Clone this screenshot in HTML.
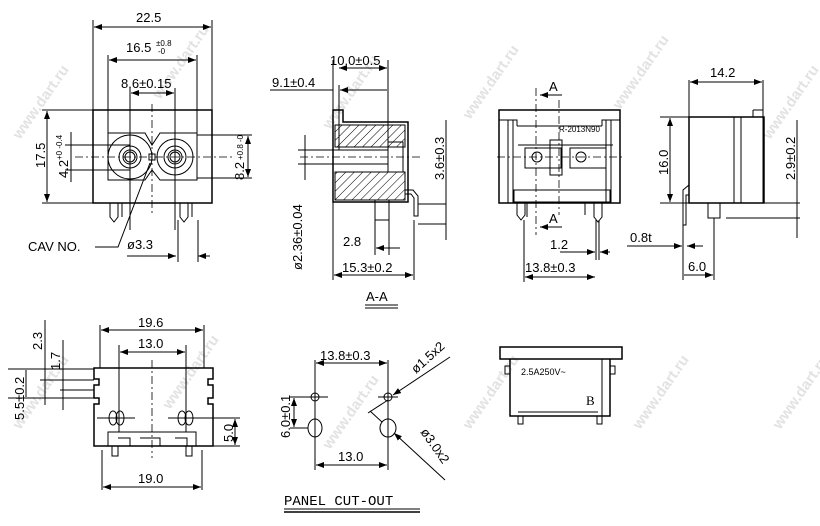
<!DOCTYPE html>
<html><head><meta charset="utf-8"><style>
html,body{margin:0;padding:0;background:#fff}
svg{display:block}
text{font-family:"Liberation Sans",sans-serif;font-size:13px;fill:#000}
.s{stroke:#000;stroke-width:1;fill:none}
.t{stroke:#000;stroke-width:1.5;fill:none}
.d{stroke:#000;stroke-width:0.8;fill:none;stroke-dasharray:8 3 2 3}
.w{font-size:15px;fill:#e2e2e2;font-weight:bold}
</style></head><body>
<svg width="820" height="526" viewBox="0 0 820 526" xmlns="http://www.w3.org/2000/svg">
<defs>
<marker id="a" markerWidth="8" markerHeight="6" refX="8" refY="3" orient="auto-start-reverse"><path d="M0,0 L8,3 L0,6z" fill="#000"/></marker>
<pattern id="h" width="6" height="6" patternUnits="userSpaceOnUse" patternTransform="rotate(45)"><line x1="0" y1="0" x2="0" y2="6" stroke="#000" stroke-width="1"/></pattern>
</defs>
<g>
<text class="w" transform="translate(20,140) rotate(-55)">www.dart.ru</text>
<text class="w" transform="translate(160,100) rotate(-55)">www.dart.ru</text>
<text class="w" transform="translate(330,130) rotate(-55)">www.dart.ru</text>
<text class="w" transform="translate(470,120) rotate(-55)">www.dart.ru</text>
<text class="w" transform="translate(620,110) rotate(-55)">www.dart.ru</text>
<text class="w" transform="translate(770,140) rotate(-55)">www.dart.ru</text>
<text class="w" transform="translate(20,430) rotate(-55)">www.dart.ru</text>
<text class="w" transform="translate(170,410) rotate(-55)">www.dart.ru</text>
<text class="w" transform="translate(330,450) rotate(-55)">www.dart.ru</text>
<text class="w" transform="translate(470,430) rotate(-55)">www.dart.ru</text>
<text class="w" transform="translate(640,430) rotate(-55)">www.dart.ru</text>
<text class="w" transform="translate(780,430) rotate(-55)">www.dart.ru</text>
</g>

<!-- VIEW 1 front -->
<rect class="t" x="93" y="110" width="119" height="93"/>
<path class="s" d="M108,133 L145,133 L152,145 L160,133 L197,133 L197,180 L160,180 L152,170 L145,180 L108,180z"/>
<circle class="s" cx="130" cy="157" r="22"/><circle class="s" cx="175" cy="157" r="18"/>
<circle class="s" cx="130" cy="157" r="11"/><circle class="s" cx="130" cy="157" r="7"/><circle class="s" cx="130" cy="157" r="5"/>
<circle class="s" cx="175" cy="157" r="11"/><circle class="s" cx="175" cy="157" r="7"/><circle class="s" cx="175" cy="157" r="5"/>
<rect class="s" x="149" y="154" width="6" height="6"/>
<line class="d" x1="75" y1="157" x2="232" y2="157"/>
<line class="d" x1="152" y1="104" x2="152" y2="215"/>
<line class="s" x1="130" y1="88" x2="130" y2="230"/><line class="s" x1="175" y1="88" x2="175" y2="230"/>
<line class="s" x1="93" y1="20" x2="93" y2="110"/><line class="s" x1="212" y1="20" x2="212" y2="110"/>
<line class="s" x1="94" y1="27" x2="211" y2="27" marker-start="url(#a)" marker-end="url(#a)"/>
<text x="136" y="22">22.5</text>
<line class="s" x1="108" y1="55" x2="108" y2="135"/><line class="s" x1="197" y1="55" x2="197" y2="135"/>
<line class="s" x1="109" y1="60" x2="196" y2="60" marker-start="url(#a)" marker-end="url(#a)"/>
<text x="126" y="52">16.5</text><text x="156" y="46" style="font-size:8px">±0.8</text><text x="158" y="54" style="font-size:8px">-0</text>
<line class="s" x1="131" y1="93" x2="174" y2="93" marker-start="url(#a)" marker-end="url(#a)"/>
<text x="121" y="88">8.6±0.15</text>
<line class="s" x1="42" y1="110" x2="93" y2="110"/><line class="s" x1="42" y1="203" x2="93" y2="203"/>
<line class="s" x1="47" y1="111" x2="47" y2="202" marker-start="url(#a)" marker-end="url(#a)"/>
<text transform="translate(45,168) rotate(-90)">17.5</text>
<line class="s" x1="65" y1="145" x2="130" y2="145"/><line class="s" x1="65" y1="170" x2="130" y2="170"/>
<line class="s" x1="71" y1="132" x2="71" y2="182"/>
<text transform="translate(68,178) rotate(-90)">4.2</text><text transform="translate(62,160) rotate(-90)" style="font-size:8px">+0 -0.4</text>
<line class="s" x1="197" y1="135" x2="252" y2="135"/><line class="s" x1="197" y1="178" x2="252" y2="178"/>
<line class="s" x1="248" y1="136" x2="248" y2="177" marker-start="url(#a)" marker-end="url(#a)"/>
<text transform="translate(244,180) rotate(-90)">8.2</text><text transform="translate(243,160) rotate(-90)" style="font-size:8px">+0.8 -0</text>
<path class="s" d="M110,203 v14 l4,5 l4,-5 v-14 M118,203 v12 M122,203 v14 M180,203 v14 l4,5 l4,-5 v-14 M188,203 v12 M192,203 v14"/>
<text x="28" y="251">CAV  NO.</text>
<path class="s" d="M95,247 L118,247 L150,163"/>
<text x="127" y="249">ø3.3</text>
<line class="s" x1="127" y1="256" x2="176" y2="256" marker-end="url(#a)"/>
<line class="s" x1="198" y1="256" x2="210" y2="256" marker-start="url(#a)"/>
<line class="s" x1="178" y1="220" x2="178" y2="262"/><line class="s" x1="198" y1="220" x2="198" y2="262"/>

<!-- VIEW 2 section -->
<path class="t" d="M333,110 h10 v12 h65 v80 h-75z"/>
<rect x="335" y="125" width="70" height="22" fill="url(#h)" stroke="#000"/>
<rect x="335" y="172" width="70" height="28" fill="url(#h)" stroke="#000"/>
<path class="s" d="M333,150 h55 v-8 h15 v30 h-15 v-8 h-55 M388,150 v14"/>
<rect class="s" x="375" y="200" width="14" height="20"/>
<path class="s" d="M405,190 h8 l5,6 v20 h-4 v-18 l-3,-4 h-6"/>
<line class="d" x1="300" y1="157" x2="420" y2="157"/>
<line class="s" x1="298" y1="150" x2="340" y2="150"/><line class="s" x1="298" y1="164" x2="340" y2="164"/>
<line class="s" x1="305" y1="135" x2="305" y2="180"/>
<text transform="translate(302,270) rotate(-90)">ø2.36±0.04</text>
<line class="s" x1="333" y1="60" x2="333" y2="280"/><line class="s" x1="388" y1="60" x2="388" y2="150"/>
<line class="s" x1="339" y1="68" x2="387" y2="68" marker-start="url(#a)" marker-end="url(#a)"/>
<text x="330" y="65">10.0±0.5</text>
<line class="s" x1="270" y1="90" x2="333" y2="90"/><line class="s" x1="339" y1="85" x2="339" y2="150"/>
<line class="s" x1="340" y1="90" x2="387" y2="90" marker-start="url(#a)"/>
<text x="272" y="87">9.1±0.4</text>
<line class="s" x1="418" y1="204" x2="446" y2="204"/><line class="s" x1="418" y1="224" x2="446" y2="224"/>
<line class="s" x1="446" y1="120" x2="446" y2="240"/>
<text transform="translate(444,180) rotate(-90)">3.6±0.3</text>
<line class="s" x1="375" y1="220" x2="375" y2="255"/><line class="s" x1="389" y1="220" x2="389" y2="255"/>
<line class="s" x1="376" y1="248" x2="400" y2="248" marker-start="url(#a)"/>
<text x="343" y="246">2.8</text>
<line class="s" x1="414" y1="220" x2="414" y2="280"/>
<line class="s" x1="334" y1="275" x2="413" y2="275" marker-start="url(#a)" marker-end="url(#a)"/>
<text x="342" y="272">15.3±0.2</text>
<text x="366" y="301">A-A</text>
<line class="s" x1="365" y1="305" x2="398" y2="305"/><line class="s" x1="365" y1="308" x2="398" y2="308"/>

<!-- VIEW 3 -->
<path class="t" d="M499,110 h121 v93 h-121z"/>
<path class="s" d="M508,120 v83 M513,120 v83 M611,120 v83 M606,120 v83 M499,120 h18 v6 M620,120 h-18 v6 M517,126 h85"/>
<path class="s" d="M518,145 h95 M525,148 h36 v20 h-36z M570,148 h36 v20 h-36z M550,140 h12 v35 h-12z"/>
<circle class="s" cx="537" cy="157" r="5"/><circle class="s" cx="581" cy="157" r="5"/>
<rect class="s" x="514" y="190" width="96" height="12"/>
<path class="s" d="M517,203 v12 l4,5 l4,-5 v-12 M527,203 v14 M585,203 v12 M594,203 v14 l4,5 l4,-5 v-14"/>
<text x="559" y="132" style="font-size:8px">R-2013N90</text>
<line class="d" x1="536" y1="88" x2="536" y2="235"/><line class="d" x1="559" y1="100" x2="559" y2="215"/>
<line class="d" x1="497" y1="157" x2="622" y2="157"/>
<line class="s" x1="540" y1="95" x2="562" y2="95" marker-start="url(#a)"/><text x="549" y="91">A</text>
<line class="s" x1="540" y1="227" x2="562" y2="227" marker-start="url(#a)"/><text x="549" y="223">A</text>
<line class="s" x1="524" y1="220" x2="524" y2="282"/><line class="s" x1="596" y1="220" x2="596" y2="260"/><line class="s" x1="599" y1="220" x2="599" y2="260"/>
<line class="s" x1="560" y1="252" x2="595" y2="252" marker-end="url(#a)"/><line class="s" x1="600" y1="252" x2="610" y2="252" marker-start="url(#a)"/>
<text x="550" y="249">1.2</text>
<line class="s" x1="525" y1="277" x2="595" y2="277" marker-start="url(#a)" marker-end="url(#a)"/>
<text x="525" y="272">13.8±0.3</text>

<!-- VIEW 4 side -->
<path class="t" d="M689,117 h75 v86 h-75z"/>
<path class="s" d="M734,117 v86 M741,117 v86 M753,110 h10 v93 M753,110 v7 M689,116 v-4"/>
<path class="s" d="M683,190 l6,-5 v10 h-3 v30 h-3z M708,203 h12 v15 h-12z"/>
<line class="s" x1="689" y1="80" x2="689" y2="117"/><line class="s" x1="763" y1="80" x2="763" y2="110"/>
<line class="s" x1="690" y1="82" x2="762" y2="82" marker-start="url(#a)" marker-end="url(#a)"/>
<text x="710" y="77">14.2</text>
<line class="s" x1="660" y1="117" x2="689" y2="117"/><line class="s" x1="660" y1="203" x2="689" y2="203"/>
<line class="s" x1="670" y1="118" x2="670" y2="202" marker-start="url(#a)" marker-end="url(#a)"/>
<text transform="translate(668,175) rotate(-90)">16.0</text>
<line class="s" x1="763" y1="203" x2="800" y2="203"/><line class="s" x1="726" y1="218" x2="800" y2="218"/>
<line class="s" x1="797" y1="120" x2="797" y2="238"/>
<text transform="translate(795,180) rotate(-90)">2.9±0.2</text>
<line class="s" x1="627" y1="246" x2="682" y2="246" marker-end="url(#a)"/><line class="s" x1="687" y1="246" x2="703" y2="246" marker-start="url(#a)"/>
<text x="630" y="242">0.8t</text>
<line class="s" x1="683" y1="225" x2="683" y2="280"/><line class="s" x1="714" y1="218" x2="714" y2="280"/>
<line class="s" x1="684" y1="275" x2="713" y2="275" marker-end="url(#a)"/>
<text x="688" y="271">6.0</text>

<!-- VIEW 5 bottom-left -->
<path class="t" d="M94,368 h119 v11 h-5 v6 h5 v13 h-5 v6 h5 v42 h-119 v-42 h5 v-6 h-5 v-13 h5 v-6 h-5z"/>
<rect class="s" x="108" y="432" width="88" height="14"/>
<path class="s" d="M112,446 v10 h6 v-10 M186,446 v10 h6 v-10 M118,438 h12 v8 M140,438 h20 v8 M175,438 h12 v8"/>
<ellipse class="s" cx="113" cy="418" rx="4" ry="7"/><ellipse class="s" cx="120" cy="418" rx="4" ry="7"/>
<ellipse class="s" cx="182" cy="418" rx="4" ry="7"/><ellipse class="s" cx="189" cy="418" rx="4" ry="7"/>
<line class="s" x1="97" y1="418" x2="135" y2="418"/><line class="s" x1="168" y1="418" x2="208" y2="418"/>
<line class="d" x1="152" y1="360" x2="152" y2="458"/>
<line class="s" x1="100" y1="325" x2="100" y2="368"/><line class="s" x1="204" y1="325" x2="204" y2="368"/>
<line class="s" x1="101" y1="330" x2="203" y2="330" marker-start="url(#a)" marker-end="url(#a)"/>
<text x="138" y="327">19.6</text>
<line class="s" x1="119" y1="345" x2="119" y2="432"/><line class="s" x1="186" y1="345" x2="186" y2="432"/>
<line class="s" x1="120" y1="352" x2="185" y2="352" marker-start="url(#a)" marker-end="url(#a)"/>
<text x="138" y="348">13.0</text>
<line class="s" x1="8" y1="369" x2="94" y2="369"/><line class="s" x1="8" y1="398" x2="94" y2="398"/>
<line class="s" x1="40" y1="380" x2="94" y2="380"/><line class="s" x1="60" y1="390" x2="94" y2="390"/>
<line class="s" x1="26" y1="370" x2="26" y2="397"/>
<line class="s" x1="45" y1="320" x2="45" y2="405"/><line class="s" x1="63" y1="340" x2="63" y2="410"/>
<text transform="translate(24,420) rotate(-90)">5.5±0.2</text>
<text transform="translate(42,350) rotate(-90)">2.3</text>
<text transform="translate(60,370) rotate(-90)">1.7</text>
<line class="s" x1="208" y1="418" x2="240" y2="418"/><line class="s" x1="196" y1="446" x2="240" y2="446"/>
<line class="s" x1="235" y1="419" x2="235" y2="445" marker-start="url(#a)" marker-end="url(#a)"/>
<text transform="translate(233,442) rotate(-90)">5.0</text>
<line class="s" x1="102" y1="450" x2="102" y2="490"/><line class="s" x1="202" y1="450" x2="202" y2="490"/>
<line class="s" x1="103" y1="487" x2="201" y2="487" marker-start="url(#a)" marker-end="url(#a)"/>
<text x="138" y="483">19.0</text>

<!-- PANEL CUT-OUT -->
<circle class="s" cx="315" cy="397" r="4"/><circle class="s" cx="388" cy="397" r="4"/>
<ellipse class="s" cx="315" cy="428" rx="7" ry="9"/><ellipse class="s" cx="388" cy="428" rx="8" ry="9"/>
<line class="s" x1="302" y1="397" x2="328" y2="397"/><line class="s" x1="378" y1="397" x2="398" y2="397"/>
<line class="s" x1="315" y1="360" x2="315" y2="470"/><line class="s" x1="388" y1="360" x2="388" y2="470"/>
<line class="s" x1="316" y1="363" x2="387" y2="363" marker-start="url(#a)" marker-end="url(#a)"/>
<text x="320" y="360">13.8±0.3</text>
<line class="s" x1="316" y1="465" x2="387" y2="465" marker-start="url(#a)" marker-end="url(#a)"/>
<text x="338" y="461">13.0</text>
<line class="s" x1="290" y1="397" x2="310" y2="397"/><line class="s" x1="290" y1="428" x2="308" y2="428"/>
<line class="s" x1="294" y1="398" x2="294" y2="427" marker-start="url(#a)" marker-end="url(#a)"/>
<text transform="translate(290,438) rotate(-90)">6.0±0.1</text>
<line class="s" x1="450" y1="357" x2="393" y2="395" marker-end="url(#a)"/>
<line class="s" x1="388" y1="400" x2="368" y2="413"/>
<text transform="translate(416,374) rotate(-42)">ø1.5x2</text>
<line class="s" x1="445" y1="480" x2="394" y2="433" marker-end="url(#a)"/>
<line class="s" x1="382" y1="422" x2="370" y2="411"/>
<text transform="translate(420,432) rotate(55)">ø3.0x2</text>
<text x="284" y="505" style="font-family:'Liberation Mono',monospace;font-size:14px">PANEL CUT-OUT</text>
<line class="s" x1="284" y1="509" x2="420" y2="509"/><line class="t" x1="284" y1="512" x2="420" y2="512"/>

<!-- VIEW B -->
<rect class="t" x="500" y="347" width="122" height="12"/>
<path class="t" d="M510,359 v57 h100 v-57"/>
<path class="s" d="M510,366 h-5 v8 h5 M610,366 h5 v8 h-5 M602,359 v57 M518,416 v8 h5 v-8 M597,416 v8 h5 v-8 M518,412 h80"/>
<text x="521" y="375" style="font-size:9px">2.5A250V~</text>
<text x="586" y="405" style="font-family:'Liberation Serif',serif">B</text>
</svg>
</body></html>
